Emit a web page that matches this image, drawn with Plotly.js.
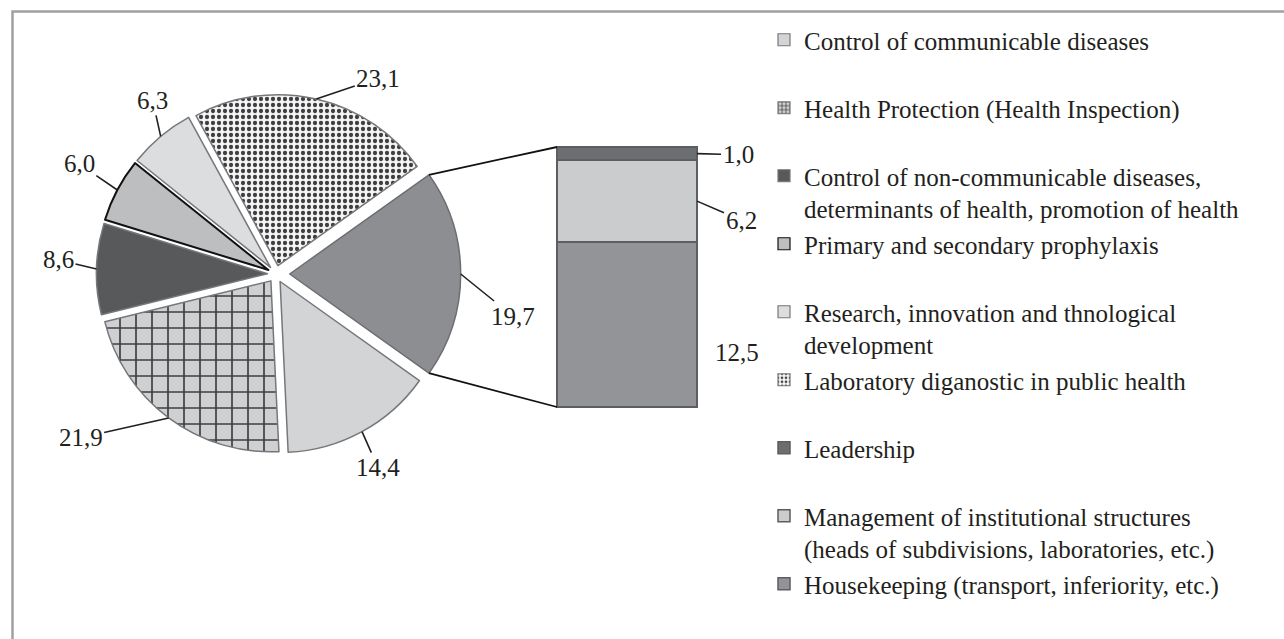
<!DOCTYPE html>
<html>
<head>
<meta charset="utf-8">
<script src="https://cdn.plot.ly/plotly-3.0.1.min.js"></script>
<style>
  html, body { margin: 0; padding: 0; background: #fff; }
  #chart { width: 1284px; height: 639px; }
</style>
</head>
<body>
<div id="chart"></div>
<script>
// pie categories (clockwise, starting after the "other" slice)
var pieNames = [
  "Control of communicable diseases",
  "Health Protection (Health Inspection)",
  "Control of non-communicable diseases,<br>determinants of health, promotion of health",
  "Primary and secondary prophylaxis",
  "Research, innovation and thnological<br>development",
  "Laboratory diganostic in public health"
];
var pieValues = [14.4, 21.9, 8.6, 6.0, 6.3, 23.1];

// categories split out of the pie into the bar (bottom to top)
var barNames = [
  "Housekeeping (transport, inferiority, etc.)",
  "Management of institutional structures<br>(heads of subdivisions, laboratories, etc.)",
  "Leadership"
];
var barValues = [12.5, 6.2, 1.0];

// ---- styles ----
var W = 1284, H = 639;
var FONT = "Liberation Serif, Times New Roman, serif";
var INK = "#231f20";

var pieColors = ["#d3d4d6", "#cfd0d2", "#58595b", "#bdbec0", "#dcdddf", "#f4f4f4"];
var pieShapes = ["", "+", "", "", "", "."];
var pieLine = ["#76777a", "#76777a", "#76777a", "#111111", "#76777a", "#76777a"];
var pieLineW = [1.5, 1.5, 1.5, 2, 1.5, 1.5];
var otherColor = "#8d8e91";
var barColors = ["#929497", "#cbcccd", "#6d6e71"];
var legendRank = [9, 8, 7];

// pie geometry in pixels
var cx = 276, cy = 274, r = 171;
var pull = 0.05, pullOther = 0.08;
// bar box in pixels
var bx0 = 557, bx1 = 697, by0 = 147, by1 = 407, bpad = 2;

// label offsets (px, from the slice edge / bar edge)
var pieLabelShift = [[16, 36], [-88, 20], [-38, -9], [-38, -26], [-8, -36], [62, -21]];
var otherLabelShift = [52, 42];
var barLabelShift = [[40, 28], [44, 19], [41, 1]];

function px(x) { return x / W; }
function py(y) { return 1 - y / H; }
function fmt(v) { return v.toFixed(1).replace(".", ","); }
function twoLines(s) { return s.indexOf("<br>") < 0 ? s + "<br>\u00a0" : s; }

var other = barValues.reduce(function (a, b) { return a + b; }, 0);
var total = pieValues.reduce(function (a, b) { return a + b; }, 0) + other;
var rotation = 90 + 180 * other / total;

var R = r * (1 + pullOther);
var traces = [];

// the pie
var pieColorsAll = pieColors.concat([otherColor]);
traces.push({
  type: "pie",
  labels: pieNames.concat(["Other"]),
  values: pieValues.concat([other]),
  sort: false,
  direction: "clockwise",
  rotation: rotation,
  pull: pieValues.map(function () { return pull; }).concat([pullOther]),
  textinfo: "none",
  hoverinfo: "none",
  showlegend: false,
  domain: { x: [px(cx - R), px(cx + R)], y: [py(cy + R), py(cy - R)] },
  marker: {
    colors: pieColorsAll,
    line: { color: pieLine.concat(["#6d6e71"]), width: pieLineW.concat([1.5]) },
    pattern: {
      shape: pieShapes.concat([""]),
      bgcolor: pieColorsAll,
      fgcolor: "#3f3f42",
      size: [8, 16, 8, 8, 8, 6, 8],
      solidity: [0.3, 0.2, 0.3, 0.3, 0.3, 0.4, 0.3]
    }
  }
});

// legend entries for the pie categories (zero bars parked outside the bar axis range)
pieNames.forEach(function (name, i) {
  traces.push({
    type: "bar", x: [3], y: [0],
    name: twoLines(name),
    legendrank: i + 1,
    hoverinfo: "none",
    marker: {
      color: pieColors[i],
      line: { color: pieLine[i], width: 1.2 },
      pattern: { shape: pieShapes[i], bgcolor: pieColors[i], fgcolor: "#3f3f42", size: 5, solidity: 0.35 }
    }
  });
});

// the stacked bar
barNames.forEach(function (name, i) {
  traces.push({
    type: "bar",
    x: [0], y: [barValues[i]], width: [1],
    name: twoLines(name),
    legendrank: legendRank[i],
    hoverinfo: "none",
    marker: { color: barColors[i], line: { color: "#5d5e61", width: 1.5 } }
  });
});

// axis ranges so that the bar fills the box [bx0..bx1] x [by0..by1]
var xPad = bpad / (bx1 - bx0), yPad = bpad * other / (by1 - by0);

// labels on the pie
var annotations = [];
var cum = 0;
pieValues.concat([other]).forEach(function (v, i) {
  var mid = (rotation + (cum + v / 2) / total * 360) * Math.PI / 180;
  cum += v;
  var p = i < pieValues.length ? pull : pullOther;
  var ax = cx + r * (1 + p) * Math.sin(mid);
  var ay = cy - r * (1 + p) * Math.cos(mid);
  var sh = i < pieValues.length ? pieLabelShift[i] : otherLabelShift;
  annotations.push({
    xref: "paper", yref: "paper", x: px(ax), y: py(ay),
    text: fmt(v), showarrow: true, arrowhead: 0, arrowwidth: 1.6, arrowcolor: INK,
    ax: sh[0], ay: sh[1], standoff: 0,
    font: { family: FONT, size: 25, color: INK }
  });
});

// labels on the bar
var base = 0;
barValues.forEach(function (v, i) {
  var sh = barLabelShift[i];
  annotations.push({
    xref: "x", yref: "y", x: 0.5, y: base + v / 2,
    text: fmt(v), showarrow: i > 0, arrowhead: 0, arrowwidth: 1.6, arrowcolor: INK,
    ax: sh[0], ay: sh[1], standoff: 0,
    xshift: i > 0 ? 0 : sh[0], yshift: i > 0 ? 0 : -sh[1],
    font: { family: FONT, size: 25, color: INK }
  });
  base += v;
});

// connector lines from the "other" slice to the bar
var a0 = (rotation + (total - other) / total * 360) * Math.PI / 180;
var a1 = (rotation + 360) * Math.PI / 180;
var offX = pullOther * r;
var c0 = [cx + offX + r * Math.sin(a0), cy - r * Math.cos(a0)];
var c1 = [cx + offX + r * Math.sin(a1), cy - r * Math.cos(a1)];

var shapes = [
  { type: "line", xref: "paper", yref: "paper", x0: px(c0[0]), y0: py(c0[1]), x1: px(bx0), y1: py(by0),
    line: { color: "#111", width: 1.8 } },
  { type: "line", xref: "paper", yref: "paper", x0: px(c1[0]), y0: py(c1[1]), x1: px(bx0), y1: py(by1),
    line: { color: "#111", width: 1.8 } },
  // outer frame
  { type: "rect", xref: "paper", yref: "paper", x0: px(12.5), y0: -0.05, x1: 1.05, y1: py(11.5),
    line: { color: "#a0a0a2", width: 2.5 }, layer: "below" }
];

var layout = {
  width: W, height: H,
  margin: { l: 0, r: 0, t: 0, b: 0 },
  paper_bgcolor: "#fff", plot_bgcolor: "rgba(0,0,0,0)",
  font: { family: FONT, size: 25, color: INK },
  barmode: "stack",
  xaxis: {
    domain: [px(bx0 - bpad), px(bx1 + bpad)], range: [-0.5 - xPad, 0.5 + xPad],
    visible: false, fixedrange: true
  },
  yaxis: {
    domain: [py(by1 + bpad), py(by0 - bpad)], range: [-yPad, other + yPad],
    visible: false, fixedrange: true
  },
  showlegend: true,
  legend: {
    x: px(764), y: py(19), xanchor: "left", yanchor: "top",
    traceorder: "normal", valign: "top", tracegroupgap: 0,
    bgcolor: "rgba(0,0,0,0)", font: { family: FONT, size: 25, color: INK }
  },
  annotations: annotations,
  shapes: shapes
};

Plotly.newPlot("chart", traces, layout, { displayModeBar: false, staticPlot: true });
</script>
</body>
</html>
